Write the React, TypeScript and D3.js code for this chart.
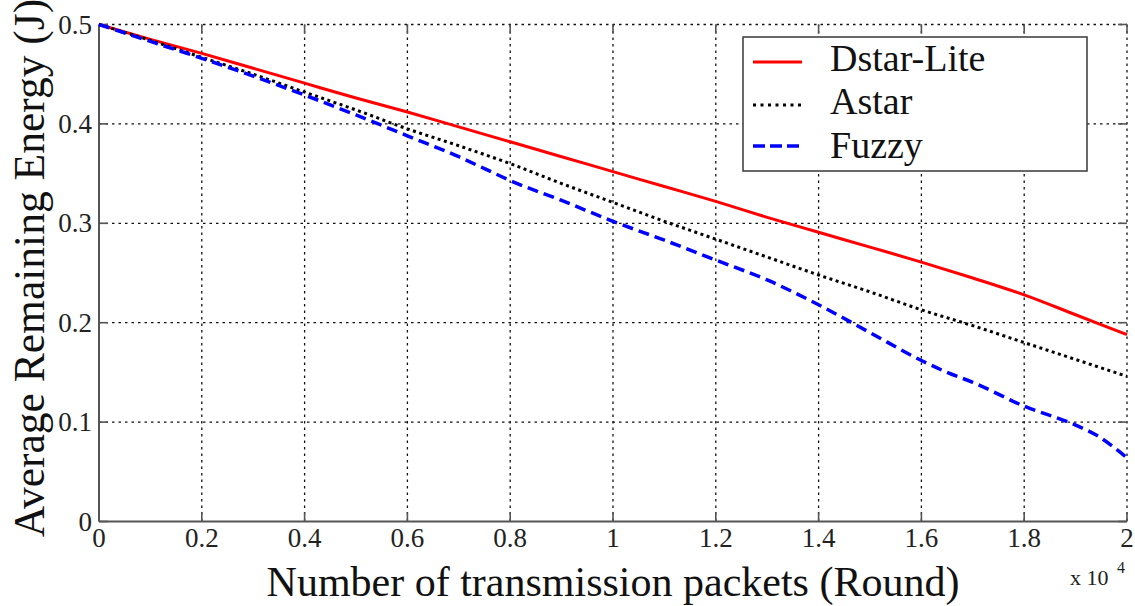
import React from "react";
import * as d3 from "d3";

const xTicks = [0, 0.2, 0.4, 0.6, 0.8, 1, 1.2, 1.4, 1.6, 1.8, 2];
const yTicks = [0, 0.1, 0.2, 0.3, 0.4, 0.5];

const dstarX = [0, 0.1, 0.2, 0.3, 0.4, 0.5, 0.6, 0.7, 0.8, 0.9, 1.0, 1.1, 1.2, 1.3, 1.4, 1.5, 1.6, 1.7, 1.8, 1.9, 2.0];
const dstarY = [0.5, 0.485, 0.471, 0.456, 0.441, 0.426, 0.412, 0.397, 0.382, 0.367, 0.352, 0.337, 0.322, 0.306, 0.291, 0.276, 0.261, 0.245, 0.228, 0.208, 0.188];

const astarX = [0, 0.1, 0.2, 0.3, 0.4, 0.5, 0.6, 0.7, 0.8, 0.9, 1.0, 1.1, 1.2, 1.3, 1.4, 1.5, 1.6, 1.7, 1.8, 1.9, 2.0];
const astarY = [0.5, 0.484, 0.467, 0.45, 0.432, 0.414, 0.395, 0.378, 0.36, 0.34, 0.321, 0.302, 0.284, 0.266, 0.248, 0.231, 0.213, 0.197, 0.18, 0.163, 0.146];

const fuzzyX = [0, 0.1, 0.2, 0.3, 0.4, 0.5, 0.6, 0.7, 0.75, 0.8, 0.9, 1.0, 1.1, 1.2, 1.3, 1.4, 1.5, 1.6, 1.65, 1.7, 1.8, 1.9, 1.94, 2.0];
const fuzzyY = [0.5, 0.483, 0.466, 0.448, 0.429, 0.409, 0.388, 0.367, 0.355, 0.343, 0.323, 0.302, 0.283, 0.263, 0.243, 0.218, 0.19, 0.162, 0.15, 0.14, 0.116, 0.097, 0.087, 0.064];

const seriesNames = ["Dstar-Lite", "Astar", "Fuzzy"];

const W = 1135;
const H = 606;
const L = 99;
const R = 1127;
const T = 24.5;
const B = 521.5;
const FONT = "'Liberation Serif', 'Times New Roman', Times, serif";

export default function App() {
  const x = d3.scaleLinear().domain([0, 2]).range([L, R]);
  const y = d3.scaleLinear().domain([0, 0.5]).range([B, T]);
  const line = d3
    .line<[number, number]>()
    .x((d) => x(d[0]))
    .y((d) => y(d[1]))
    .curve(d3.curveMonotoneX);

  const series = [
    { name: seriesNames[0], pts: dstarX.map((v, i) => [v, dstarY[i]] as [number, number]), color: "#ff0000", dash: "none", width: 3, legendDash: "none" },
    { name: seriesNames[1], pts: astarX.map((v, i) => [v, astarY[i]] as [number, number]), color: "#000000", dash: "3,3.5", width: 3, legendDash: "3,4.5" },
    { name: seriesNames[2], pts: fuzzyX.map((v, i) => [v, fuzzyY[i]] as [number, number]), color: "#0000ff", dash: "11,6", width: 3.5, legendDash: "12,5" },
  ];

  const gridStyle = { stroke: "#111", strokeWidth: 1.3, strokeDasharray: "2.5,4" };
  const legendY = [62, 105, 146];
  const legendTextY = [71, 114, 158];
  const fmt = d3.format("~g");

  return (
    <svg width={W} height={H} style={{ position: "absolute", left: 0, top: 0, background: "#fff" }} fontFamily={FONT}>
      <rect x={0} y={0} width={W} height={H} fill="#fff" />
      {xTicks.slice(1).map((t) => (
        <line key={"gx" + t} x1={x(t)} x2={x(t)} y1={T} y2={B} {...gridStyle} />
      ))}
      {yTicks.slice(1).map((t) => (
        <line key={"gy" + t} x1={L} x2={R} y1={y(t)} y2={y(t)} {...gridStyle} />
      ))}
      {xTicks.map((t) => (
        <g key={"tx" + t} stroke="#555" strokeWidth={1.6}>
          <line x1={x(t)} x2={x(t)} y1={B} y2={B - 9} />
          <line x1={x(t)} x2={x(t)} y1={T} y2={T + 9} />
        </g>
      ))}
      {yTicks.map((t) => (
        <g key={"ty" + t} stroke="#555" strokeWidth={1.6}>
          <line x1={L} x2={L + 9} y1={y(t)} y2={y(t)} />
          <line x1={R} x2={R - 9} y1={y(t)} y2={y(t)} />
        </g>
      ))}
      <line x1={L} x2={L} y1={T} y2={B} stroke="#555" strokeWidth={2} />
      <line x1={L} x2={R} y1={B} y2={B} stroke="#555" strokeWidth={2} />

      {series.map((s) => (
        <path
          key={s.name}
          d={line(s.pts) || ""}
          fill="none"
          stroke={s.color}
          strokeWidth={s.width}
          strokeDasharray={s.dash}
        />
      ))}

      {xTicks.map((t) => (
        <text key={"lx" + t} x={x(t)} y={547} fontSize={27} fontFamily={FONT} textAnchor="middle" fill="#222">
          {fmt(t)}
        </text>
      ))}
      {yTicks.map((t) => (
        <text key={"ly" + t} x={92} y={y(t) + 9} fontSize={27} fontFamily={FONT} textAnchor="end" fill="#222">
          {fmt(t)}
        </text>
      ))}
      <text x={1070} y={585} fontSize={22} fontFamily={FONT} fill="#222">
        x 10
      </text>
      <text x={1117} y={573} fontSize={16} fontFamily={FONT} fill="#222">
        4
      </text>

      <text x={613} y={596} fontSize={42} fontFamily={FONT} textAnchor="middle" fill="#111">
        Number of transmission packets (Round)
      </text>
      <text transform={`translate(44, 268) rotate(-90)`} fontSize={43.5} fontFamily={FONT} textAnchor="middle" fill="#111">
        Average Remaining Energy (J)
      </text>

      <rect x={743} y={37} width={344} height={134} fill="#fff" stroke="#444" strokeWidth={1.6} />
      {series.map((s, i) => (
        <g key={"leg" + s.name}>
          <line
            x1={753}
            x2={802}
            y1={legendY[i]}
            y2={legendY[i]}
            stroke={s.color}
            strokeWidth={s.width}
            strokeDasharray={s.legendDash}
          />
          <text x={830} y={legendTextY[i]} fontSize={38} fontFamily={FONT} fill="#111">
            {s.name}
          </text>
        </g>
      ))}
    </svg>
  );
}
